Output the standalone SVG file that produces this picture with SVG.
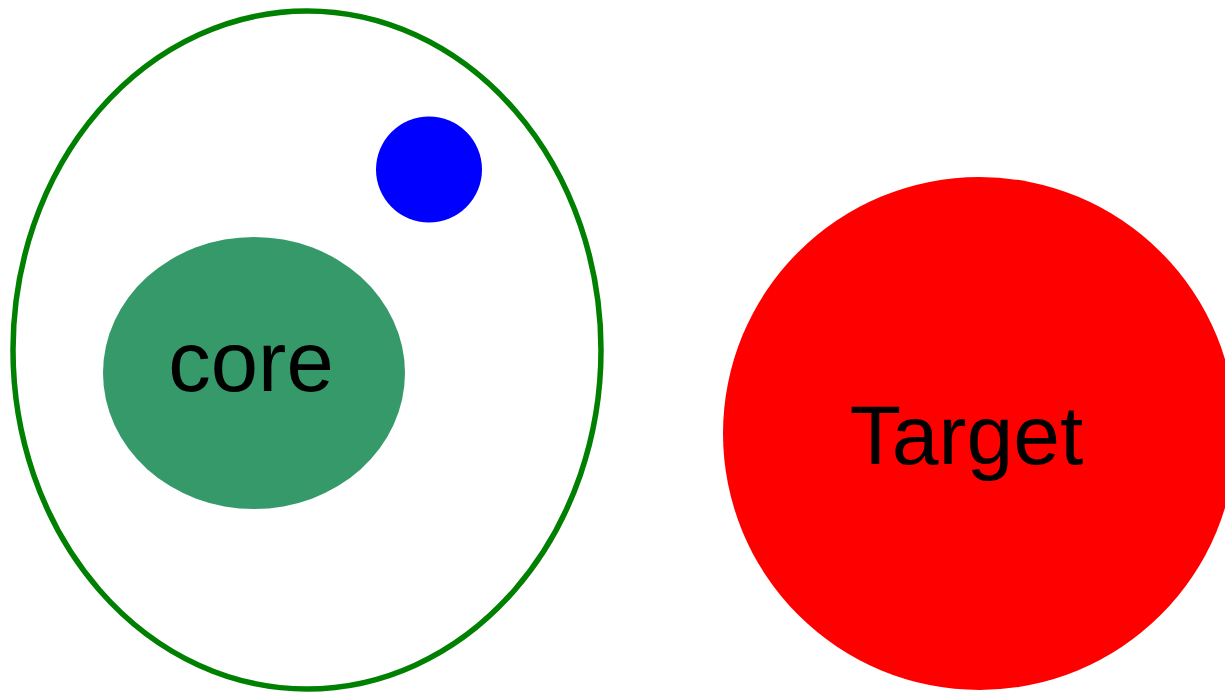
<svg xmlns="http://www.w3.org/2000/svg" width="1225" height="694" viewBox="0 0 1225 694">
<style>
.lbl{font-family:"Liberation Sans",Arial,sans-serif;fill:#000;text-anchor:middle}
</style>
<rect width="1225" height="694" fill="#fff"/>
<g id="cell">
<ellipse cx="307" cy="350" rx="294" ry="339" fill="#fff" stroke="#008000" stroke-width="5.5"/>
</g>
<g id="core">
<ellipse cx="254" cy="373" rx="151" ry="136" fill="#35996a"/>
<text class="lbl" x="251" y="391" font-size="85">core</text>
</g>
<g id="particle">
<circle cx="429" cy="169.5" r="53" fill="#0000ff"/>
</g>
<g id="target">
<circle cx="979.5" cy="433.5" r="256.5" fill="#ff0000"/>
<text class="lbl" x="966.5" y="464" font-size="84">Target</text>
</g>
<g id="connectors"/>
</svg>
